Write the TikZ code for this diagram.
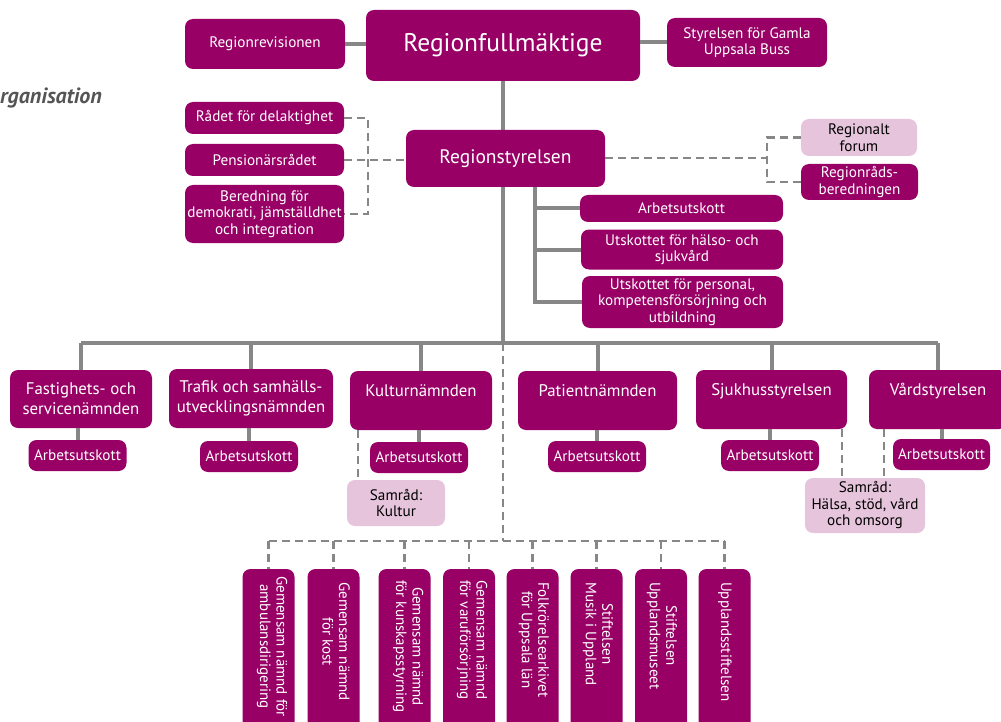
\documentclass[tikz,border=0pt]{standalone}
\usepackage{fontspec}
\setmainfont{PT Sans}
\definecolor{mag}{RGB}{152,0,102}
\definecolor{pinkb}{RGB}{230,196,220}
\definecolor{lnc}{RGB}{135,135,135}
\definecolor{ttl}{RGB}{85,85,85}
\begin{document}
\begin{tikzpicture}[x=1pt,y=-1pt,
  box/.style={fill=mag,text=white,rounded corners=8pt,inner sep=0pt,align=center,font=\fontsize{15.2}{16.5}\selectfont},
  pbox/.style={box,fill=pinkb,text=black},
  mid/.style={box,font=\fontsize{16.8}{20}\selectfont},
  vbox/.style={fill=mag,rounded corners=8pt,inner sep=0pt,minimum width=52pt,minimum height=175pt},
  vtxt/.style={text=white,rotate=-90,anchor=west,align=center,inner sep=0pt,font=\fontsize{15}{16.5}\selectfont},
  ln/.style={draw=lnc,line width=4pt},
  dsh/.style={draw=lnc,line width=2.8pt,dash pattern=on 8pt off 5pt}]
\clip (0,0) rectangle (1001,722);
\fill[white] (0,0) rectangle (1001,722);
% title
\node[anchor=west,inner sep=0pt,text=ttl,font=\fontsize{22}{24}\selectfont\bfseries\itshape] (title) at (0,98) {rganisation};
% coordinates
\coordinate (bar) at (503,343);
\coordinate (st) at (535,305);
\coordinate (lj) at (368,160);
\coordinate (rj) at (767,158);
\coordinate (bb) at (503,541);
% top level
\node[box,minimum width=274pt,minimum height=71pt,font=\fontsize{25.5}{28}\selectfont] (rf) at (503,45.5) {Regionfullmäktige};
\node[box,minimum width=160pt,minimum height=50pt] (rr) at (265,44) {Regionrevisionen};
\node[box,minimum width=160pt,minimum height=49pt] (sg) at (747,42.5) {Styrelsen för Gamla\\Uppsala Buss};
\draw[ln] (rr.east) -- (rr.east -| rf.west);
\draw[ln] (sg.west) -- (sg.west -| rf.east);
\draw[ln] (rf.south) -- (bar);
% Regionstyrelsen
\node[box,minimum width=199pt,minimum height=57pt,font=\fontsize{19.5}{22}\selectfont] (rs) at (505.5,158.5) {Regionstyrelsen};
\node[box,minimum width=159pt,minimum height=32pt] (rd) at (264.5,118) {Rådet för delaktighet};
\node[box,minimum width=159pt,minimum height=32pt] (pr) at (264.5,160) {Pensionärsrådet};
\node[box,minimum width=159pt,minimum height=58pt] (bd) at (264.5,214) {Beredning för\\demokrati, jämställdhet\\och integration};
\node[pbox,minimum width=116pt,minimum height=37pt] (rfo) at (859,137.5) {Regionalt\\forum};
\node[box,minimum width=117pt,minimum height=36pt] (rb) at (859.5,182) {Regionråds-\\beredningen};
\draw[dsh] (rd.east) -| (lj) |- (bd.east);
\draw[dsh] (pr.east) -- (pr.east -| rs.west);
\draw[dsh] (rs.east |- rj) -- (rj);
\draw[dsh] (rfo.west) -| (rj) |- (rb.west);
% utskott
\node[box,minimum width=203pt,minimum height=27pt] (au0) at (681.5,208.5) {Arbetsutskott};
\node[box,minimum width=202pt,minimum height=40pt] (uh) at (682,249.5) {Utskottet för hälso- och\\sjukvård};
\node[box,minimum width=201pt,minimum height=52pt] (up) at (682.5,302) {Utskottet för personal,\\kompetensförsörjning och\\utbildning};
\draw[ln] (rs.south -| st) |- (up.west);
\draw[ln] (au0.west) -- (au0.west -| st);
\draw[ln] (uh.west) -- (uh.west -| st);
% second row
\node[mid,minimum width=142pt,minimum height=58pt] (fa) at (81,399) {Fastighets- och\\servicenämnden};
\node[mid,minimum width=164pt,minimum height=59pt] (tr) at (251,398.5) {Trafik och samhälls-\\utvecklingsnämnden};
\node[mid,minimum width=142pt,minimum height=59pt] (ku) at (421,400.5) {Kulturnämnden\\~};
\node[mid,minimum width=159pt,minimum height=59pt] (pa) at (597.5,400.5) {Patientnämnden\\~};
\node[mid,minimum width=151pt,minimum height=59pt] (sj) at (771.5,399.5) {Sjukhusstyrelsen\\~};
\node[mid,minimum width=138pt,minimum height=59pt] (va) at (938,399.5) {Vårdstyrelsen\\~};
\draw[ln] (fa.north |- bar) -- (va.north |- bar);
\foreach \n in {fa,tr,ku,pa,sj,va} {\draw[ln] (\n.north |- bar) -- (\n.north);}
% AU
\node[box,minimum width=98pt,minimum height=31pt] (a1) at (77.5,455.5) {Arbetsutskott};
\node[box,minimum width=98pt,minimum height=31pt] (a2) at (249,456.5) {Arbetsutskott};
\node[box,minimum width=98pt,minimum height=31pt] (a3) at (419,457.5) {Arbetsutskott};
\node[box,minimum width=98pt,minimum height=31pt] (a4) at (597,456.5) {Arbetsutskott};
\node[box,minimum width=98pt,minimum height=31pt] (a5) at (770,455.5) {Arbetsutskott};
\node[box,minimum width=97pt,minimum height=31pt] (a6) at (941.5,454.5) {Arbetsutskott};
\draw[ln] (a1.north) -- (a1.north |- fa.south);
\draw[ln] (a2.north) -- (a2.north |- tr.south);
\draw[ln] (a3.north) -- (a3.north |- ku.south);
\draw[ln] (a4.north) -- (a4.north |- pa.south);
\draw[ln] (a5.north) -- (a5.north |- sj.south);
\draw[ln] (a6.north) -- (a6.north |- va.south);
% samråd
\node[pbox,minimum width=98pt,minimum height=46pt] (sk) at (396,503) {Samråd:\\Kultur};
\node[pbox,minimum width=120pt,minimum height=55pt] (sh) at (865,505.5) {Samråd:\\Hälsa, stöd, vård\\och omsorg};
\coordinate (kx) at (358,0);
\coordinate (sx) at (842,0);
\coordinate (vx) at (884,0);
\draw[dsh] (kx |- ku.south) -- (kx |- sk.north);
\draw[dsh] (sx |- sj.south) -- (sx |- sh.north);
\draw[dsh] (vx |- va.south) -- (vx |- sh.north);
% bottom
\draw[dsh] (bar) -- (bb);
\node[vbox] (b1) at (268.5,656.5) {};
\node[vbox] (b2) at (333.5,656.5) {};
\node[vbox] (b3) at (404.5,656.5) {};
\node[vbox] (b4) at (469,656.5) {};
\node[vbox] (b5) at (532.5,656.5) {};
\node[vbox] (b6) at (596.5,656.5) {};
\node[vbox] (b7) at (661,656.5) {};
\node[vbox] (b8) at (724.5,656.5) {};
\draw[dsh] (b1.north |- bb) -- (b8.north |- bb);
\foreach \n in {b1,b2,b3,b4,b5,b6,b7,b8} {\draw[dsh] (\n.north |- bb) -- (\n.north);}
\node[vtxt] (t1) at (272,576) {Gemensam nämnd för\\ambulansdirigering};
\node[vtxt] (t2) at (336,582) {Gemensam nämnd\\för kost};
\node[vtxt] (t3) at (408,580) {Gemensam nämnd\\för kunskapsstyrning};
\node[vtxt] (t4) at (472,580) {Gemensam nämnd\\för varuförsörjning};
\node[vtxt] (t5) at (534,582) {Folkrörelsearkivet\\för Uppsala län};
\node[vtxt] (t6) at (598,582) {Stiftelsen\\Musik i Uppland};
\node[vtxt] (t7) at (662,582) {Stiftelsen\\Upplandsmuseet};
\node[vtxt] (t8) at (725,582) {Upplandsstiftelsen};
\end{tikzpicture}
\end{document}
